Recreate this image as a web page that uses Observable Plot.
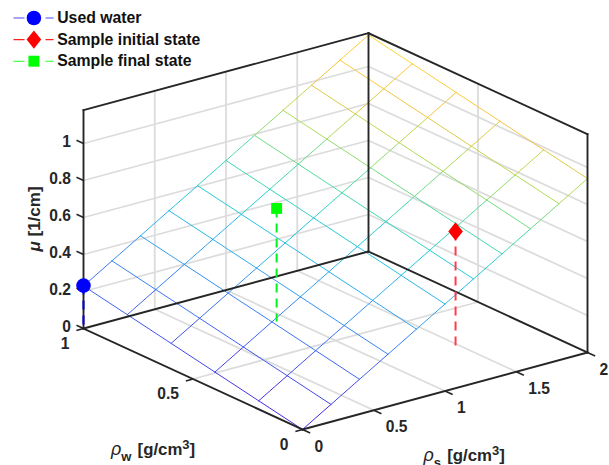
<!DOCTYPE html>
<html>
<head>
<meta charset="utf-8">
<script src="https://cdn.jsdelivr.net/npm/d3@7"></script>
<script src="https://cdn.jsdelivr.net/npm/@observablehq/plot@0.6"></script>
<style>
html,body{margin:0;padding:0;background:#fff;overflow:hidden}
svg{display:block}
</style>
</head>
<body>
<div id="chart"></div>
<script>
// ---- data ----
const rhoS = [0, 0.2, 0.4, 0.6, 0.8, 1, 1.2, 1.4, 1.6, 1.8, 2];
const rhoW = [0, 0.2, 0.4, 0.6, 0.8, 1];
const muRow0 = [0, 0.094, 0.188, 0.282, 0.376, 0.47, 0.564, 0.658, 0.752, 0.846, 0.94];
const muRow1 = [0.046, 0.14, 0.234, 0.328, 0.422, 0.516, 0.61, 0.704, 0.798, 0.892, 0.986];
const muRow2 = [0.092, 0.186, 0.28, 0.374, 0.468, 0.562, 0.656, 0.75, 0.844, 0.938, 1.032];
const muRow3 = [0.138, 0.232, 0.326, 0.42, 0.514, 0.608, 0.702, 0.796, 0.89, 0.984, 1.078];
const muRow4 = [0.184, 0.278, 0.372, 0.466, 0.56, 0.654, 0.748, 0.842, 0.936, 1.03, 1.124];
const muRow5 = [0.23, 0.324, 0.418, 0.512, 0.606, 0.7, 0.794, 0.888, 0.982, 1.076, 1.17];
const muRows = [muRow0, muRow1, muRow2, muRow3, muRow4, muRow5];

const sTicks = [0, 0.5, 1, 1.5, 2];
const wTicks = [0, 0.5, 1];
const mTicks = [0, 0.2, 0.4, 0.6, 0.8, 1];
const sMax = 2, wMax = 1, mMax = 1.18;

const seriesNames = ["Used water", "Sample initial state", "Sample final state"];
const seriesS = [0, 1.426, 0.922];
const seriesW = [1, 0.229, 0.718];
const seriesM = [0.232, 0.649, 0.611];
const seriesColors = ["#0000ff", "#ff0000", "#00ff00"];
const stemColors = ["#0000e0", "#ff3d4a", "#00f020"];
const legendLineColors = ["#4a4aff", "#ff2020", "#20ff20"];

const meshDomain = [0, 0.2, 0.4, 0.55, 0.7, 0.85, 1.0, 1.17];
const meshRange = ["#4a28e0", "#3f68f5", "#30a8f0", "#22ccd8", "#50dca0", "#b4dc50", "#fcc040", "#ffe030"];

// ---- orthographic view of the 3-D axes ----
const origin = [302, 429];
const sAxis = [142.5, -38.5];   // per unit rho_s
const wAxis = [-219, -101];     // per unit rho_w
const mAxis = [0, -185];        // per unit mu
const px = (s, w, m) => origin[0] + s * sAxis[0] + w * wAxis[0] + m * mAxis[0];
const py = (s, w, m) => origin[1] + s * sAxis[1] + w * wAxis[1] + m * mAxis[1];
const seg = (a, b) => ({x1: px(...a), y1: py(...a), x2: px(...b), y2: py(...b)});

// walls and floor grid
const gridSegs = [
  ...sTicks.slice(1, -1).flatMap(s => [seg([s, 0, 0], [s, wMax, 0]), seg([s, wMax, 0], [s, wMax, mMax])]),
  ...wTicks.slice(1, -1).flatMap(w => [seg([0, w, 0], [sMax, w, 0]), seg([sMax, w, 0], [sMax, w, mMax])]),
  ...mTicks.slice(1).flatMap(m => [seg([0, wMax, m], [sMax, wMax, m]), seg([sMax, wMax, m], [sMax, 0, m])])
];

// box edges
const boxSegs = [
  seg([0, wMax, 0], [0, wMax, mMax]),
  seg([0, wMax, mMax], [sMax, wMax, mMax]),
  seg([sMax, wMax, mMax], [sMax, 0, mMax]),
  seg([sMax, 0, mMax], [sMax, 0, 0]),
  seg([sMax, wMax, 0], [sMax, wMax, mMax]),
  seg([0, wMax, 0], [sMax, wMax, 0]),
  seg([sMax, wMax, 0], [sMax, 0, 0]),
  seg([0, wMax, 0], [0, 0, 0]),
  seg([0, 0, 0], [sMax, 0, 0])
];

// tick marks
const tickSegs = [
  ...sTicks.map(s => seg([s, 0, 0], [s, -0.035, 0])),
  ...wTicks.map(w => seg([0, w, 0], [-0.05, w, 0])),
  ...mTicks.map(m => seg([0, wMax, m], [0, wMax + 0.032, m]))
];

// mesh polylines
const mesh = [
  ...rhoW.flatMap((w, j) => rhoS.map((s, i) => ({id: "w" + j, x: px(s, w, muRows[j][i]), y: py(s, w, muRows[j][i]), m: muRows[j][i]}))),
  ...rhoS.flatMap((s, i) => rhoW.map((w, j) => ({id: "s" + i, x: px(s, w, muRows[j][i]), y: py(s, w, muRows[j][i]), m: muRows[j][i]})))
];

const series = seriesNames.map((name, i) => ({
  name, i, color: seriesColors[i],
  x: px(seriesS[i], seriesW[i], seriesM[i]), y: py(seriesS[i], seriesW[i], seriesM[i]),
  x0: px(seriesS[i], seriesW[i], 0), y0: py(seriesS[i], seriesW[i], 0)
}));

const diamond = {draw(c, size) { const r = Math.sqrt(size / Math.PI); c.moveTo(0, -r * 1.25); c.lineTo(r, 0); c.lineTo(0, r * 1.25); c.lineTo(-r, 0); c.closePath(); }};
const square = {draw(c, size) { const r = Math.sqrt(size / Math.PI) * 0.75; c.rect(-r, -r, 2 * r, 2 * r); }};
const circle = {draw(c, size) { const r = Math.sqrt(size / Math.PI); c.moveTo(r, 0); c.arc(0, 0, r, 0, 2 * Math.PI); }};
const symbols = [circle, diamond, square];

const font = "'Liberation Sans', Arial, sans-serif";
const ink = "#262626";
const txt = {fontFamily: font, fontWeight: "bold", fontSize: 15.6, fill: ink};
const fmt = v => String(v);
const legendY = i => 17.5 + 21.6 * i;

function richLabel(x, y, rotate, size, parts) {
  return (index, scales) => {
    const t = d3.create("svg:text")
      .attr("transform", `translate(${scales.x(x)},${scales.y(y)}) rotate(${rotate})`)
      .attr("text-anchor", "start")
      .attr("font-family", font).attr("font-weight", "bold").attr("font-size", size).attr("fill", ink)
      .style("white-space", "pre");
    for (const p of parts) {
      const s = t.append("tspan").text(p.t);
      if (p.italic) s.attr("font-style", "italic");
      if (p.normal) s.attr("font-weight", "normal");
      if (p.size) s.attr("font-size", p.size);
      if (p.dy) s.attr("dy", p.dy);
      if (p.dx) s.attr("dx", p.dx);
    }
    return t.node();
  };
}

const chart = Plot.plot({
  width: 609, height: 465,
  margin: 0,
  x: {domain: [0, 609], range: [0, 609], axis: null},
  y: {domain: [0, 465], range: [0, 465], axis: null},
  color: {type: "linear", domain: meshDomain, range: meshRange, interpolate: "rgb"},
  style: {background: "#fff"},
  marks: [
    Plot.link(gridSegs, {x1: "x1", y1: "y1", x2: "x2", y2: "y2", stroke: "#dcdcdc", strokeWidth: 1.8}),
    Plot.line(mesh, {x: "x", y: "y", z: "id", stroke: "m", strokeWidth: 1}),
    Plot.link(boxSegs, {x1: "x1", y1: "y1", x2: "x2", y2: "y2", stroke: ink, strokeWidth: 1.9, strokeLinecap: "square"}),
    Plot.link(tickSegs, {x1: "x1", y1: "y1", x2: "x2", y2: "y2", stroke: ink, strokeWidth: 1.6}),
    Plot.text(mTicks, {x: m => px(0, wMax, 0), y: m => py(0, wMax, m), text: fmt, textAnchor: "end", dx: -12.5, dy: -1.5, ...txt}),
    Plot.text(wTicks, {x: w => px(0, w, 0), y: w => py(0, w, 0), text: fmt, textAnchor: "end", dx: -14, dy: 15, ...txt}),
    Plot.text(sTicks, {x: s => px(s, 0, 0), y: s => py(s, 0, 0), text: fmt, textAnchor: "start", dx: 12, dy: 17, ...txt}),
    richLabel(40, 251.5, -90, 17, [{t: "μ", italic: true}, {t: " [1/cm]"}]),
    richLabel(111, 455, 0, 16.8, [{t: "ρ", italic: true, normal: true, size: 18}, {t: "w", size: 13, dy: 6}, {t: " [g/cm", dy: -6, dx: 1.5}, {t: "3", size: 13, dy: -6}, {t: "]", dy: 6}]),
    richLabel(423.5, 460.5, 0, 16.8, [{t: "ρ", italic: true, normal: true, size: 18}, {t: "s", size: 13, dy: 6}, {t: " [g/cm", dy: -6, dx: 1.5}, {t: "3", size: 13, dy: -6}, {t: "]", dy: 6}]),
    ...series.map((d, i) => Plot.link([d], {x1: "x", y1: "y", x2: "x0", y2: "y0", stroke: stemColors[i], strokeWidth: 2, strokeDasharray: "9,6"})),
    Plot.dot(series, {x: "x", y: "y", fill: "color", stroke: null, r: 7.3, symbol: d => symbols[d.i]}),
    // legend
    ...series.map((d, i) => Plot.link([d], {x1: 13, x2: 53, y1: legendY(i), y2: legendY(i), stroke: legendLineColors[i], strokeWidth: 1.1, strokeDasharray: "11,21,8"})),
    Plot.dot(series, {x: 33.4, y: d => legendY(d.i), fill: "color", stroke: null, r: 7.3, symbol: d => symbols[d.i]}),
    Plot.text(series, {x: 56.7, y: d => legendY(d.i), text: "name", textAnchor: "start", ...txt, fontSize: 15.8, fill: "#111"})
  ]
});
document.getElementById("chart").appendChild(chart);
</script>
</body>
</html>
